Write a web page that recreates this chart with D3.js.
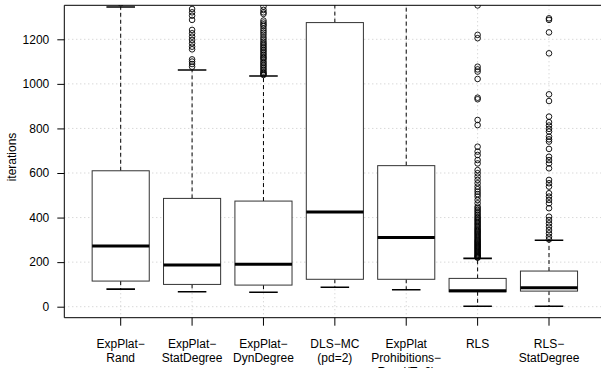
<!DOCTYPE html>
<html>
<head>
<meta charset="utf-8">
<script src="https://cdn.jsdelivr.net/npm/d3@7"></script>
<style>
  body { margin: 0; background: #fff; }
  svg { display: block; font-family: "Liberation Sans", Arial, sans-serif; }
</style>
</head>
<body>
<div id="chart"></div>
<script>
// group labels (one entry per text line)
const labels = [
  ["ExpPlat\u2212", "Rand"],
  ["ExpPlat\u2212", "StatDegree"],
  ["ExpPlat\u2212", "DynDegree"],
  ["DLS\u2212MC", "(pd=2)"],
  ["ExpPlat", "Prohibitions\u2212", "Rand(T=2)"],
  ["RLS"],
  ["RLS\u2212", "StatDegree"]
];

// box statistics
const lowWhisker  = [79, 67, 65, 87, 76, 2, 2];
const q1          = [115, 100, 97, 123, 123, 67, 70];
const medians     = [272, 187, 190, 425, 310, 72, 85];
const q3          = [610, 486, 474, 1275, 633, 127, 160];
const highWhisker = [1345, 1062, 1035, 1420, 1420, 217, 298];

const outRand = [1362];
const outStat = [1336, 1321, 1306, 1287, 1242, 1227, 1212, 1197, 1182, 1167, 1155, 1110, 1100, 1089, 1077];
const outDyn = [1347, 1332, 1321, 1314, 1284, 1275, 1267, 1260, 1249, 1239, 1230, 1220, 1209, 1200, 1190,
  1182, 1175, 1167, 1160, 1152, 1145, 1137, 1130, 1122, 1116, 1110, 1100, 1093, 1085, 1078, 1070, 1063,
  1055, 1049, 1044, 1040];
const outDls = [];
const outProh = [];
const outRls = [1352, 1220, 1205, 1077, 1065, 1055, 1022, 938, 931, 838, 815, 718, 696, 681, 658, 643, 613,
  599, 584, 569, 554, 539, 527, 516, 505, 494, 479, 464, 449, 442, 434, 427, 419, 412, 404, 398, 392, 386,
  380, 374, 368, 362, 356, 350, 345, 340, 335, 330, 325, 320, 315, 310, 305, 300, 296, 292, 288, 284, 280,
  276, 272, 268, 264, 260, 256, 252, 248, 244, 240, 236, 232, 228, 225, 222, 220];
const outRlsStat = [1294, 1287, 1231, 1137, 953, 923, 853, 828, 813, 798, 786, 763, 751, 741, 708, 673, 658,
  643, 621, 569, 554, 539, 509, 494, 479, 464, 442, 404, 389, 374, 359, 344, 329, 314, 302];
const outliers = [outRand, outStat, outDyn, outDls, outProh, outRls, outRlsStat];

const yTicks = [0, 200, 400, 600, 800, 1000, 1200];

const width = 601, height = 368;
const plotLeft = 64.3, plotTop = 5.3, plotBottom = 317.7, plotRight = 601;

const svg = d3.select("#chart").append("svg")
  .attr("width", width)
  .attr("height", height);

const x = d3.scaleLinear().domain([1, 7]).range([120.7, 549]);
const y = d3.scaleLinear().domain([0, 1200]).range([306.7, 39.3]);
const boxW = (x(2) - x(1)) * 0.8;

svg.append("clipPath").attr("id", "plotclip")
  .append("rect")
  .attr("x", plotLeft).attr("y", plotTop)
  .attr("width", plotRight - plotLeft).attr("height", plotBottom - plotTop);

const plot = svg.append("g").attr("clip-path", "url(#plotclip)");

// dotted grid
plot.selectAll(".hgrid").data(yTicks).join("line")
  .attr("x1", plotLeft).attr("x2", plotRight)
  .attr("y1", d => y(d)).attr("y2", d => y(d))
  .attr("stroke", "#c8c8c8").attr("stroke-width", 1)
  .attr("stroke-dasharray", "1,3");
plot.selectAll(".vgrid").data(labels).join("line")
  .attr("x1", (d, i) => x(i + 1)).attr("x2", (d, i) => x(i + 1))
  .attr("y1", plotTop).attr("y2", plotBottom)
  .attr("stroke", "#c8c8c8").attr("stroke-width", 1)
  .attr("stroke-dasharray", "1,3");

const boxes = plot.selectAll(".box").data(labels).join("g")
  .attr("transform", (d, i) => "translate(" + x(i + 1) + ",0)");

// whiskers
boxes.append("line")
  .attr("y1", (d, i) => y(q3[i])).attr("y2", (d, i) => y(highWhisker[i]))
  .attr("stroke", "#000").attr("stroke-dasharray", "4,3");
boxes.append("line")
  .attr("y1", (d, i) => y(q1[i])).attr("y2", (d, i) => y(lowWhisker[i]))
  .attr("stroke", "#000").attr("stroke-dasharray", "4,3");
// caps
boxes.append("line")
  .attr("x1", -boxW / 4).attr("x2", boxW / 4)
  .attr("y1", (d, i) => y(highWhisker[i])).attr("y2", (d, i) => y(highWhisker[i]))
  .attr("stroke", "#000").attr("stroke-width", 1.6);
boxes.append("line")
  .attr("x1", -boxW / 4).attr("x2", boxW / 4)
  .attr("y1", (d, i) => y(lowWhisker[i])).attr("y2", (d, i) => y(lowWhisker[i]))
  .attr("stroke", "#000").attr("stroke-width", 1.6);

// box
boxes.append("rect")
  .attr("x", -boxW / 2).attr("width", boxW)
  .attr("y", (d, i) => y(q3[i]))
  .attr("height", (d, i) => y(q1[i]) - y(q3[i]))
  .attr("fill", "#fff").attr("stroke", "#333").attr("stroke-width", 1);
// median
boxes.append("line")
  .attr("x1", -boxW / 2).attr("x2", boxW / 2)
  .attr("y1", (d, i) => y(medians[i])).attr("y2", (d, i) => y(medians[i]))
  .attr("stroke", "#000").attr("stroke-width", 3);

// outliers
boxes.each(function(d, i) {
  d3.select(this).selectAll("circle").data(outliers[i]).join("circle")
    .attr("cx", 0).attr("cy", v => y(v)).attr("r", 2.8)
    .attr("fill", "none").attr("stroke", "#000").attr("stroke-width", 0.9);
});

// frame (right side runs off the picture)
svg.append("path")
  .attr("d", "M" + plotRight + "," + plotTop + "H" + plotLeft + "V" + plotBottom + "H" + plotRight)
  .attr("fill", "none").attr("stroke", "#000").attr("stroke-width", 1);

// y axis
const yAxis = svg.append("g").attr("transform", "translate(" + plotLeft + ",0)")
  .call(d3.axisLeft(y).tickValues(yTicks).tickSize(7).tickPadding(8).tickFormat(d3.format("d")));
yAxis.select(".domain").remove();
yAxis.selectAll("text").attr("font-size", 12).attr("fill", "#000")
  .attr("font-family", "Liberation Sans, Arial, sans-serif");

// x axis ticks + multi-line labels
const xAxis = svg.append("g").attr("transform", "translate(0," + plotBottom + ")");
xAxis.selectAll("line").data(labels).join("line")
  .attr("x1", (d, i) => x(i + 1)).attr("x2", (d, i) => x(i + 1))
  .attr("y1", 0).attr("y2", 8).attr("stroke", "#000");
xAxis.selectAll("text").data(labels).join("text")
  .attr("text-anchor", "middle")
  .attr("font-size", 12)
  .attr("fill", "#000")
  .each(function(d, i) {
    d3.select(this).selectAll("tspan").data(d).join("tspan")
      .attr("x", x(i + 1))
      .attr("y", (t, j) => 30 + j * 14)
      .text(t => t);
  });

svg.append("text")
  .attr("transform", "translate(16,157) rotate(-90)")
  .attr("text-anchor", "middle")
  .attr("font-size", 12)
  .text("iterations");
</script>
</body>
</html>
